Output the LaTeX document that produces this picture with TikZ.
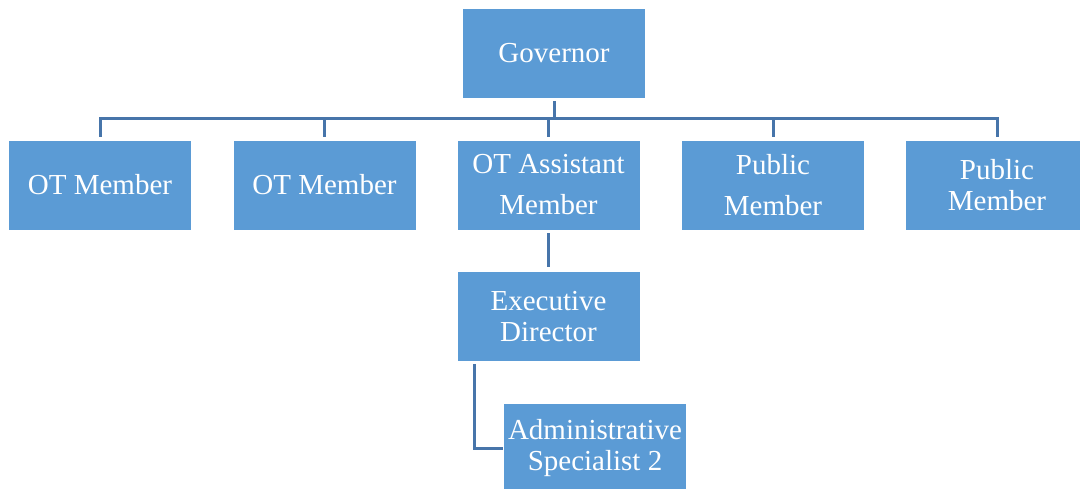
\documentclass[tikz,border=0pt]{standalone}
\usepackage{fontspec}
\setmainfont{Liberation Serif}
\definecolor{boxblue}{HTML}{5B9BD5}
\definecolor{lineblue}{HTML}{4775AA}
\begin{document}
\begin{tikzpicture}[x=1pt,y=-1pt,
  orgbox/.style={rectangle, fill=boxblue, draw=white, line width=0.8pt,
    minimum width=183pt, minimum height=90pt, inner sep=0pt,
    text=white, align=center, font=\fontsize{29}{41}\selectfont},
  tightbox/.style={orgbox, font=\fontsize{29}{30.5}\selectfont},
  conn/.style={draw=lineblue, line width=3pt}]
\useasboundingbox (0,0) rectangle (1080,489);
\clip (0,0) rectangle (1080,489);
\node[orgbox] (gov) at (554,53) {Governor};
\node[orgbox] (m1) at (100,185) {OT Member};
\node[orgbox] (m2) at (324.5,185) {OT Member};
\node[orgbox] (m3) at (548.5,185) {OT Assistant\\Member};
\node[orgbox] (m4) at (773,185) {Public\\Member};
\node[tightbox] (m5) at (997,185) {Public\\Member};
\node[tightbox] (ed) at (548.5,316.5) {Executive\\Director};
\node[tightbox] (adm) at (595,448) {Administrative\\Specialist 2};
\coordinate (bus) at (0,119);
\coordinate (elb) at (474,364);
\draw[conn] ([yshift=-3pt]gov.south) -- (gov.south |- bus);
\draw[conn] ([yshift=3pt]m1.north) -- (m1.north |- bus) -- (m5.north |- bus) -- ([yshift=3pt]m5.north);
\draw[conn] ([yshift=3pt]m2.north) -- (m2.north |- bus);
\draw[conn] ([yshift=3pt]m3.north) -- (m3.north |- bus);
\draw[conn] ([yshift=3pt]m4.north) -- (m4.north |- bus);
\draw[conn] ([yshift=-3pt]m3.south) -- ([yshift=4pt]ed.north);
\draw[conn] (elb) |- (adm.west);
\end{tikzpicture}
\end{document}
